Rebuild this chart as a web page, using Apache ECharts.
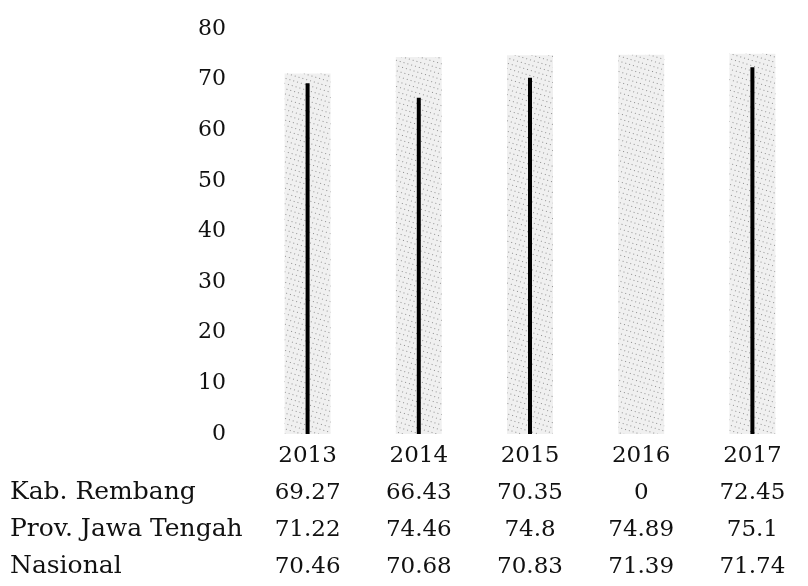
<!DOCTYPE html>
<html>
<head>
<meta charset="utf-8">
<script src="https://cdn.jsdelivr.net/npm/echarts@6/dist/echarts.min.js"></script>
<style>
  html, body { margin: 0; padding: 0; background: #fff; }
  #main { width: 808px; height: 586px; }
</style>
</head>
<body>
<div id="main"></div>
<script>
var years = ['2013', '2014', '2015', '2016', '2017'];
var rembang = [69.27, 66.43, 70.35, 0, 72.45];
var jateng = [71.22, 74.46, 74.8, 74.89, 75.1];
var nasional = [70.46, 70.68, 70.83, 71.39, 71.74];
var rowNames = ['Kab. Rembang', 'Prov. Jawa Tengah', 'Nasional'];
var yMin = 0, yMax = 80, yStep = 10;

var serif = 'DejaVu Serif';
var chart = echarts.init(document.getElementById('main'));

// label under each year: the year, then one value per row
function tableLabel(v, i) {
    return [v, rembang[i], jateng[i], nasional[i]].join('\n');
}

var rowTexts = rowNames.map(function (n, k) {
    return {
        type: 'text',
        left: 10,
        top: 480 + k * 37,
        style: { text: n, font: '25px "' + serif + '"', fill: '#111' }
    };
});

var option = {
    animation: false,
    backgroundColor: '#fff',
    grid: { left: 252, width: 560, top: 29, bottom: 151 },
    xAxis: [
        {
            type: 'category',
            data: years,
            axisLine: { show: false },
            axisTick: { show: false },
            axisLabel: {
                formatter: tableLabel,
                color: '#111',
                fontFamily: serif,
                fontSize: 23,
                lineHeight: 37,
                margin: 4
            }
        },
        {
            type: 'category',
            data: years,
            position: 'bottom',
            show: false
        }
    ],
    yAxis: {
        type: 'value',
        min: yMin,
        max: yMax,
        interval: yStep,
        axisLine: { show: false },
        axisTick: { show: false },
        splitLine: { show: false },
        axisLabel: { color: '#111', fontFamily: serif, fontSize: 22, margin: 26 }
    },
    graphic: rowTexts,
    series: [
        {
            name: 'Prov. Jawa Tengah',
            type: 'bar',
            data: jateng,
            barWidth: 46,
            xAxisIndex: 0,
            itemStyle: {
                color: 'rgba(0,0,0,0.06)',
                decal: {
                    symbol: 'rect',
                    symbolSize: 1,
                    dashArrayX: [1, 3],
                    dashArrayY: [1, 4],
                    rotation: 0.3,
                    color: 'rgba(0,0,0,0.4)'
                }
            }
        },
        {
            name: 'Nasional',
            type: 'bar',
            data: nasional,
            barWidth: 46,
            barGap: '-100%',
            xAxisIndex: 0,
            itemStyle: { color: 'rgba(0,0,0,0)' }
        },
        {
            name: 'Kab. Rembang',
            type: 'bar',
            data: rembang,
            barWidth: 4,
            xAxisIndex: 1,
            z: 5,
            itemStyle: { color: '#000' }
        }
    ]
};
chart.setOption(option);
</script>
</body>
</html>
